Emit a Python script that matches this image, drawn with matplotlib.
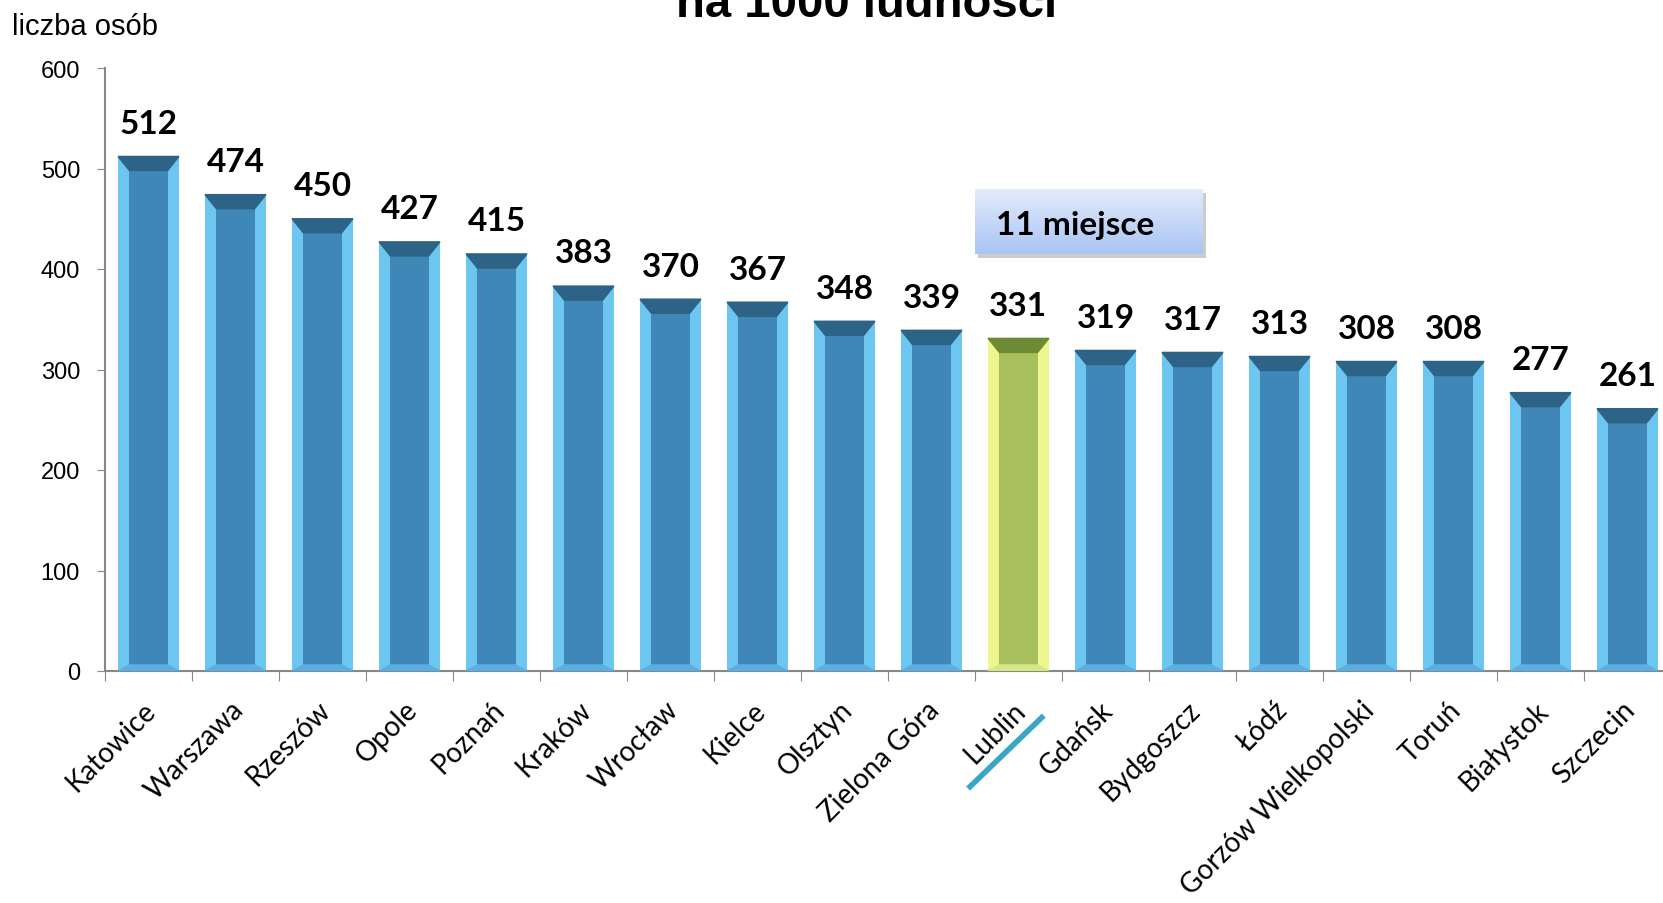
import numpy as np
import matplotlib.pyplot as plt
from matplotlib.patches import Polygon
import matplotlib.transforms as mtransforms

miasta = ["Katowice", "Warszawa", "Rzeszów", "Opole", "Poznań", "Kraków",
          "Wrocław", "Kielce", "Olsztyn", "Zielona Góra", "Lublin", "Gdańsk",
          "Bydgoszcz", "Łódź", "Gorzów Wielkopolski", "Toruń", "Białystok",
          "Szczecin"]
wartosci = [512, 474, 450, 427, 415, 383, 370, 367, 348, 339, 331, 319,
            317, 313, 308, 308, 277, 261]
wyrozniony = "Lublin"

fig = plt.figure(figsize=(16.63, 9.04), dpi=100)
ax = fig.add_axes([105 / 1663, 232 / 904, 1566 / 1663, 603 / 904])

w = 0.70   # szerokosc slupka
bx = 0.13  # szerokosc fazy
by = 14    # wysokosc fazy gornej

for i, (m, v) in enumerate(zip(miasta, wartosci)):
    if m == wyrozniony:
        jasny, srodek, gora, dol = "#eef78f", "#a7bf5c", "#6f8a35", "#d4e88a"
    else:
        jasny, srodek, gora, dol = "#6cc6f0", "#3f87b6", "#2c6386", "#5aaee4"
    l, r = i - w / 2, i + w / 2
    ax.bar(i, v, width=w, color=jasny, zorder=2)
    ax.bar(i, v - by - 6, bottom=6, width=w - 2 * bx, color=srodek, zorder=3)
    ax.add_patch(Polygon([(l, v), (r, v), (r - bx, v - by), (l + bx, v - by)],
                         closed=True, color=gora, zorder=4))
    ax.add_patch(Polygon([(l, 0), (r, 0), (r - bx, 6), (l + bx, 6)],
                         closed=True, color=dol, zorder=4))
    ax.annotate(str(v), (i, v), xytext=(0, 17), textcoords="offset points",
                ha="center", va="baseline", fontsize=24, fontweight="bold",
                family="Lato")

ax.set_xlim(-0.5, len(miasta) - 0.5)
ax.set_ylim(0, 600)
ax.set_yticks(range(0, 601, 100))
ax.set_xticks([i - 0.5 for i in range(len(miasta) + 1)])
ax.set_xticklabels([])
ax.tick_params(axis="y", labelsize=17, length=6, color="#888888", pad=12)
ax.tick_params(axis="x", length=7, color="#888888")
for t in ax.get_yticklabels():
    t.set_family("Liberation Sans")

for s in ["top", "right"]:
    ax.spines[s].set_visible(False)
ax.spines["left"].set_color("#888888")
ax.spines["bottom"].set_color("#888888")
ax.spines["left"].set_linewidth(1.5)
ax.spines["bottom"].set_linewidth(1.5)

# etykiety kategorii
trans = mtransforms.blended_transform_factory(ax.transData, ax.transAxes)
for i, m in enumerate(miasta):
    ax.text(i + 0.04, -0.057, m, transform=trans, rotation=45,
            rotation_mode="anchor", ha="right", va="center",
            fontsize=20, family="Lato")

# podkreslenie Lublina
li = miasta.index(wyrozniony)
ax.plot([li - 0.58, li + 0.29], [-0.195, -0.074], transform=trans,
        color="#3aa6c6", lw=4, clip_on=False, solid_capstyle="butt")

# ramka "11 miejsce" z gradientem
cien = fig.add_axes([978 / 1663, 1 - 259 / 904, 228 / 1663, 65 / 904])
cien.set_facecolor("#cccccc")
cien.set_xticks([])
cien.set_yticks([])
for s in cien.spines.values():
    s.set_visible(False)
ramka = fig.add_axes([975 / 1663, 1 - 255 / 904, 228 / 1663, 65 / 904])
grad = np.linspace(0, 1, 50).reshape(-1, 1)
ramka.imshow(grad, aspect="auto", extent=[0, 1, 0, 1], origin="upper",
             cmap=plt.matplotlib.colors.LinearSegmentedColormap.from_list(
                 "g", ["#e2ebfb", "#a9c5f4"]))
ramka.set_xticks([])
ramka.set_yticks([])
for s in ramka.spines.values():
    s.set_visible(False)
ramka.text(0.09, 0.30, "11 miejsce", ha="left", va="baseline",
           fontsize=24, fontweight="bold", family="Lato",
           transform=ramka.transAxes)

fig.text(12 / 1663, 1 - 35 / 904, "liczba osób", ha="left", va="baseline",
         fontsize=21, family="Liberation Sans")
fig.text(867 / 1663, 1 - 17 / 904, "na 1000 ludności", ha="center",
         va="baseline", fontsize=34, fontweight="bold",
         family="Liberation Sans")

fig.savefig("out.png", dpi=100)
